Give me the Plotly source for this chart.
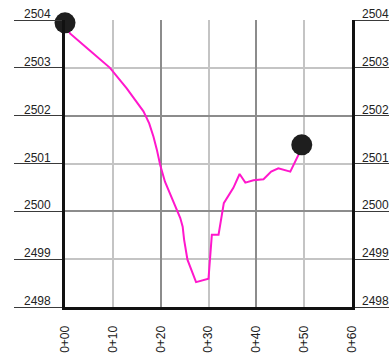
import plotly.graph_objects as go

# Ground profile: station (ft along alignment) vs elevation
stations = [0, 1.05, 5, 9.4, 12.9, 16.4, 17.6, 18.5, 19.2, 19.9, 20.9, 22.3, 23.4,
            24.1, 24.6, 24.9, 25.6, 26.5, 27.4, 30.0, 30.7, 32.1, 32.8, 33.2, 35.2,
            36.5, 37.7, 39.4, 41.5, 43.1, 44.6, 47.1, 48.8, 49.5]
elevations = [2503.94, 2503.72, 2503.38, 2503.0, 2502.57, 2502.09, 2501.84, 2501.56,
              2501.29, 2500.97, 2500.62, 2500.28, 2500.03, 2499.86, 2499.68, 2499.41,
              2498.99, 2498.75, 2498.52, 2498.59, 2499.51, 2499.51, 2499.93, 2500.17,
              2500.49, 2500.78, 2500.60, 2500.65, 2500.67, 2500.83, 2500.90, 2500.83,
              2501.18, 2501.39]

station_ticks = [0, 10, 20, 30, 40, 50, 60]
station_labels = ["0+00", "0+10", "0+20", "0+30", "0+40", "0+50", "0+60"]
elev_ticks = [2498, 2499, 2500, 2501, 2502, 2503, 2504]

DARK_GRID = "#8c8c8c"
LIGHT_GRID = "#c4c4c4"
TICK_COLOR = "#3a3a3a"
FONT = "Liberation Sans, Arial, sans-serif"
LABEL_SIZE = 12

fig = go.Figure()

fig.add_trace(go.Scatter(
    x=stations, y=elevations, mode="lines",
    line=dict(color="#ff17cc", width=2),
    hoverinfo="skip", showlegend=False,
    xaxis="x", yaxis="y",
))

# Endpoints of the profile
fig.add_trace(go.Scatter(
    x=[stations[0], stations[-1]], y=[elevations[0], elevations[-1]],
    mode="markers", marker=dict(size=21, color="#1e1e1e"),
    cliponaxis=False, hoverinfo="skip", showlegend=False,
    xaxis="x2", yaxis="y2",
))

xr = [station_ticks[0], station_ticks[-1]]
yr = [elev_ticks[0], elev_ticks[-1]]

# Elevation labels sit just above their tick lines on both sides
annotations = []
for v in elev_ticks:
    annotations.append(dict(
        x=0, xref="paper", y=v, yref="y", text=str(v), showarrow=False,
        xanchor="right", yanchor="bottom", xshift=-12, yshift=-3,
        font=dict(family=FONT, size=LABEL_SIZE, color="#222222"),
    ))
    annotations.append(dict(
        x=1, xref="paper", y=v, yref="y", text=str(v), showarrow=False,
        xanchor="left", yanchor="bottom", xshift=8, yshift=-3,
        font=dict(family=FONT, size=LABEL_SIZE, color="#222222"),
    ))

fig.update_layout(
    width=389, height=354,
    margin=dict(l=65, r=37, t=20, b=47, autoexpand=False),
    paper_bgcolor="white", plot_bgcolor="white",
    font=dict(family=FONT, size=LABEL_SIZE, color="#222222"),
    xaxis=dict(
        range=xr, tick0=0, dtick=20, showgrid=True, gridcolor=DARK_GRID, gridwidth=2,
        minor=dict(tick0=0, dtick=10, showgrid=True, gridcolor=LIGHT_GRID, gridwidth=2),
        showticklabels=False, ticks="", zeroline=False, automargin=False,
        showline=True, linecolor="#111111", linewidth=3,
    ),
    xaxis2=dict(
        range=xr, overlaying="x", anchor="y", side="bottom",
        tickvals=station_ticks, ticktext=station_labels, tickangle=-90,
        ticks="outside", ticklen=13, tickcolor="rgba(0,0,0,0)",
        showgrid=False, zeroline=False, showline=False, automargin=False,
        tickfont=dict(family=FONT, size=LABEL_SIZE, color="#222222"),
    ),
    yaxis=dict(
        range=yr, tick0=2498, dtick=2, showgrid=True, gridcolor=DARK_GRID, gridwidth=2,
        minor=dict(tick0=2498, dtick=1, showgrid=True, gridcolor=LIGHT_GRID, gridwidth=2,
                   ticks="outside", ticklen=48, tickcolor=TICK_COLOR, tickwidth=1),
        ticks="outside", ticklen=48, tickcolor=TICK_COLOR, tickwidth=1,
        showticklabels=False, zeroline=False, automargin=False,
        showline=True, linecolor="#111111", linewidth=3,
    ),
    yaxis2=dict(
        range=yr, overlaying="y", anchor="x", side="right", dtick=1, tick0=2498,
        ticks="outside", ticklen=40, tickcolor=TICK_COLOR, tickwidth=1,
        showgrid=False, zeroline=False, showticklabels=False, automargin=False,
        showline=True, linecolor="#111111", linewidth=3,
    ),
    annotations=annotations,
)

fig.write_html("out.html")
